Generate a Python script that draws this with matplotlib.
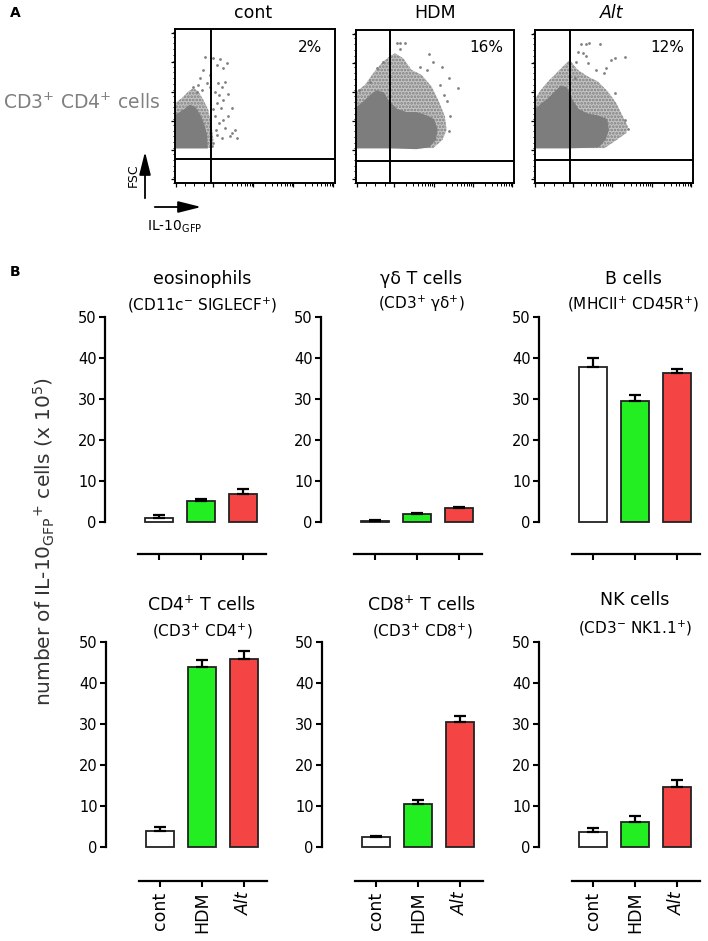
import matplotlib
matplotlib.use("Agg")
import matplotlib.pyplot as plt
from matplotlib.patches import Polygon, FancyArrowPatch
from matplotlib.ticker import MultipleLocator, FixedLocator
import numpy as np

plt.rcParams['font.family'] = 'DejaVu Sans'
plt.rcParams['mathtext.fontset'] = 'dejavusans'
plt.rcParams['hatch.linewidth'] = 1.3

W, H = 708, 941

# ---------------- panel A: flow plots (0-100 display units) ----------------
flow_titles = ["cont", "HDM", "Alt"]
flow_pct = ["2%", "16%", "12%"]
gate_x = [22.3, 21.2, 22.1]
gate_y = [15.6, 14.6, 14.8]

# dense core outline of each cloud
core_x = [
    [0, 0, 3.1, 6.25, 9.4, 12.5, 15.6, 17.7, 19.4, 19.8],
    [0, 0, 4.2, 8.5, 12.7, 16.9, 20.1, 25.4, 31.8, 38.1, 44.5, 48.7, 50.8, 49.8, 45.6, 38.1, 21.2],
    [0, 0, 4.2, 8.4, 12.6, 16.8, 20.0, 23.2, 27.4, 33.7, 40.0, 45.3, 46.3, 44.2, 40.0, 21.1],
]
core_y = [
    [23.1, 43.2, 45.4, 47.5, 50.1, 48.6, 43.2, 37.8, 31.3, 23.1],
    [23.3, 48.9, 52.2, 56.5, 59.8, 58.7, 53.3, 47.8, 45.7, 45.7, 43.5, 41.3, 34.8, 28.3, 23.9, 22.8, 23.3],
    [23.3, 46.7, 51.1, 54.3, 58.7, 63.0, 62.0, 54.3, 47.8, 44.6, 43.5, 41.3, 34.8, 28.3, 23.9, 23.3],
]
# sparser fringe outline
fringe_x = [
    [0, 0, 4.2, 8.3, 11.5, 14.6, 17.7, 20.8, 22.9, 24.0, 22.9, 0],
    [0, 0, 5.3, 10.6, 15.9, 20.8, 24.4, 29.7, 35.0, 41.3, 47.7, 51.9, 56.1, 57.2, 54.7, 48.7, 0],
    [0, 0, 3.2, 8.4, 13.7, 17.9, 22.1, 27.4, 33.7, 40.0, 46.3, 51.6, 54.7, 58.9, 57.9, 50.5, 44.2, 0],
]
fringe_y = [
    [23.1, 51.8, 55.1, 59.4, 61.6, 59.4, 54.0, 47.5, 36.7, 28.1, 22.7, 22.7],
    [23.3, 59.8, 64.1, 71.7, 78.3, 82.6, 84.8, 81.5, 73.9, 70.7, 63.0, 54.3, 43.5, 34.8, 28.3, 22.8, 22.8],
    [23.3, 54.3, 59.8, 66.3, 71.7, 76.1, 80.4, 73.9, 69.6, 66.3, 59.8, 52.2, 45.7, 37.0, 32.6, 27.2, 22.8, 22.8],
]
# isolated events
dots_x = [
    [24.0, 26.0, 28.1, 29.8, 32.7, 27.1, 29.2, 31.3, 25.0, 27.7, 30.2, 26.0, 28.5, 23.5, 25.0, 30.2, 33.3,
     27.7, 25.6, 31.3, 35.4, 37.5, 38.5, 34.4, 29.2, 26.5, 24.0, 22.9, 35.8, 32.9, 18.8, 21.9, 17.7, 15.6,
     14.6, 16.7, 13.5, 19.8, 21.9, 11.5],
    [25.4, 27.5, 30.7, 27.5, 46.2, 48.7, 54.0, 58.7, 64.6, 53.0, 55.5, 57.2, 59.3, 58.9, 40.3, 44.5, 16.9,
     12.7, 1.7, 8.5],
    [29.5, 32.6, 34.1, 41.1, 27.4, 30.5, 32.6, 26.3, 48.0, 50.5, 56.8, 45.3, 38.9, 50.9, 56.8, 58.9, 33.7,
     43.8, 25.3],
]
dots_y = [
    [81.0, 76.7, 80.3, 74.5, 77.8, 64.8, 62.6, 65.9, 59.4, 57.2, 54.0, 51.8, 48.6, 47.9, 43.2, 41.0, 43.2,
     38.9, 34.6, 35.6, 32.4, 34.6, 29.2, 30.2, 29.2, 31.3, 25.9, 23.8, 48.6, 57.9, 82.1, 70.2, 73.4, 68.0,
     63.7, 60.5, 59.4, 64.8, 62.6, 62.6],
    [91.3, 91.3, 91.3, 87.4, 84.1, 79.3, 76.1, 68.5, 62.0, 64.1, 57.6, 53.3, 43.5, 33.7, 75.7, 73.9, 79.3,
     75.0, 60.9, 66.3],
    [90.9, 90.9, 91.3, 90.9, 85.9, 84.8, 83.0, 79.3, 80.4, 81.5, 82.2, 75.0, 73.9, 59.1, 41.3, 35.2, 78.3,
     72.2, 68.5],
]

# ---------------- panel B: bar charts ----------------
groups = ["cont", "HDM", "Alt"]
bar_colors = ["white", "#22ee22", "#f44444"]
panel_titles = ["eosinophils", "γδ T cells", "B cells",
                "CD4$^{+}$ T cells", "CD8$^{+}$ T cells", "NK cells"]
panel_subtitles = ["(CD11c$^{-}$ SIGLECF$^{+}$)", "(CD3$^{+}$ γδ$^{+}$)", "(MHCII$^{+}$ CD45R$^{+}$)",
                   "(CD3$^{+}$ CD4$^{+}$)", "(CD3$^{+}$ CD8$^{+}$)", "(CD3$^{-}$ NK1.1$^{+}$)"]
eos_mean = [1.0, 5.1, 6.9]
eos_sem = [0.6, 0.4, 1.2]
gd_mean = [0.3, 1.9, 3.4]
gd_sem = [0.1, 0.3, 0.2]
bcell_mean = [37.9, 29.4, 36.4]
bcell_sem = [2.0, 1.5, 0.9]
cd4_mean = [4.0, 43.8, 45.9]
cd4_sem = [0.9, 1.7, 1.8]
cd8_mean = [2.4, 10.5, 30.6]
cd8_sem = [0.35, 1.0, 1.4]
nk_mean = [3.6, 6.2, 14.6]
nk_sem = [1.0, 1.3, 1.7]
means = [eos_mean, gd_mean, bcell_mean, cd4_mean, cd8_mean, nk_mean]
sems = [eos_sem, gd_sem, bcell_sem, cd4_sem, cd8_sem, nk_sem]

fig = plt.figure(figsize=(W / 100, H / 100), dpi=100)


def box(l, t, r, b):
    return [l / W, 1 - b / H, (r - l) / W, (b - t) / H]


def ftext(x, y, s, **kw):
    fig.text(x / W, 1 - y / H, s, **kw)


# flow cytometry dot plots
flow_boxes = [(175, 29, 335, 183), (356.5, 30, 514, 183), (534.5, 30, 693, 183)]
title_x = [253, 435, 612]
pct_x = [310, 486, 667]
for i in range(3):
    ax = fig.add_axes(box(*flow_boxes[i]))
    ax.set_xlim(0, 100)
    ax.set_ylim(0, 100)
    ax.add_patch(Polygon(list(zip(fringe_x[i], fringe_y[i])), closed=True, facecolor='#c4c4c4',
                         edgecolor='#808080', hatch='.....', lw=0, zorder=1))
    ax.add_patch(Polygon(list(zip(core_x[i], core_y[i])), closed=True, facecolor='#7d7d7d',
                         edgecolor='#7d7d7d', lw=1.5, zorder=2))
    ax.scatter(dots_x[i], dots_y[i], s=4, c='#808080', lw=0, zorder=2)
    ax.axvline(gate_x[i], color='black', lw=1.4, zorder=3)
    ax.axhline(gate_y[i], color='black', lw=1.4, zorder=3)
    for sp in ax.spines.values():
        sp.set_linewidth(1.4)
    ax.yaxis.set_major_locator(FixedLocator([2.7, 21.6, 40.5, 59.4, 78.3, 97.2]))
    ax.yaxis.set_minor_locator(MultipleLocator(3.78))
    decades = [24.0, 49.0, 74.0]
    minors = [d + 25 * np.log10(k) for d in decades for k in range(2, 10)]
    ax.xaxis.set_major_locator(FixedLocator([0.5, 24.0, 49.0, 74.0, 99.0]))
    ax.xaxis.set_minor_locator(FixedLocator(minors + [6, 12, 18]))
    ax.tick_params(which='major', length=3, width=0.9, labelbottom=False, labelleft=False)
    ax.tick_params(which='minor', length=1.8, width=0.7)
    ftext(pct_x[i], 48, flow_pct[i], fontsize=11, ha='center', va='center')
    ftext(title_x[i], 13, flow_titles[i], fontsize=12.5, ha='center', va='center',
          style='italic' if flow_titles[i] == "Alt" else 'normal')

ftext(10, 13, "A", fontsize=10, fontweight='bold', ha='left', va='center')
ftext(160, 103, "CD3$^{+}$ CD4$^{+}$ cells", fontsize=13.5, color='#808080', ha='right', va='center')
ftext(133, 175, "FSC", fontsize=9, rotation=90, ha='center', va='center')
ftext(175, 227, "IL-10$_{\\mathrm{GFP}}$", fontsize=10, ha='center', va='center')
for (x0, y0, x1, y1) in [(145, 201, 145, 149), (152, 207, 204, 207)]:
    fig.add_artist(FancyArrowPatch((x0 / W, 1 - y0 / H), (x1 / W, 1 - y1 / H),
                                   transform=fig.transFigure, arrowstyle='-|>,head_length=1.4,head_width=0.35',
                                   mutation_scale=10, lw=1.3, color='black'))

# bar panels
ftext(10, 272, "B", fontsize=10, fontweight='bold', ha='left', va='center')
spine_x = [105, 321, 539, 106, 322, 539]
row_top = [317, 642]
row_bot = [522, 847]
xaxis_off = [32, 33.5]
unit = 42.0
x_left = -54 / unit
x_right = 2.62
title_pos = [(202, 279, 305), (421, 279, 304), (633, 279, 304),
             (202, 605, 631), (422, 605, 631), (635, 600, 628)]
xs = np.arange(3)
for i in range(6):
    r = i // 3
    l = spine_x[i]
    ax = fig.add_axes(box(l, row_top[r], l + (x_right - x_left) * unit, row_bot[r]))
    ax.set_xlim(x_left, x_right)
    ax.set_ylim(0, 50)
    ax.bar(xs, means[i], width=0.68, color=bar_colors, edgecolor='#222222', linewidth=1.3,
           zorder=3, clip_on=False)
    ax.errorbar(xs, means[i], yerr=[[0, 0, 0], sems[i]], fmt='none', ecolor='black',
                elinewidth=1.6, capsize=4.6, capthick=1.6, zorder=4, clip_on=False)
    ax.spines['top'].set_visible(False)
    ax.spines['right'].set_visible(False)
    ax.spines['left'].set_bounds(0, 50)
    ax.spines['left'].set_linewidth(1.6)
    ax.spines['bottom'].set_position(('outward', xaxis_off[r] * 0.72))
    ax.spines['bottom'].set_bounds(-0.5, 2.55)
    ax.spines['bottom'].set_linewidth(1.6)
    ax.set_yticks([0, 10, 20, 30, 40, 50])
    ax.set_xticks(xs)
    ax.tick_params(axis='both', length=4.5, width=1.5, labelsize=10.5)
    ax.tick_params(axis='y', pad=1.5)
    if r == 0:
        ax.set_xticklabels([])
    else:
        ax.set_xticklabels(groups, rotation=90, fontsize=12.5)
        ax.get_xticklabels()[2].set_fontstyle('italic')
    tx, ty, sy = title_pos[i]
    ftext(tx, ty, panel_titles[i], fontsize=12.5, ha='center', va='center')
    ftext(tx, sy, panel_subtitles[i], fontsize=11, ha='center', va='center')

ftext(44, 541, "number of IL-10$_{\\mathrm{GFP}}$$^{+}$ cells (x 10$^{5}$)", fontsize=14.5,
      color='#333333', rotation=90, ha='center', va='center')

fig.savefig("out.png", dpi=100)
